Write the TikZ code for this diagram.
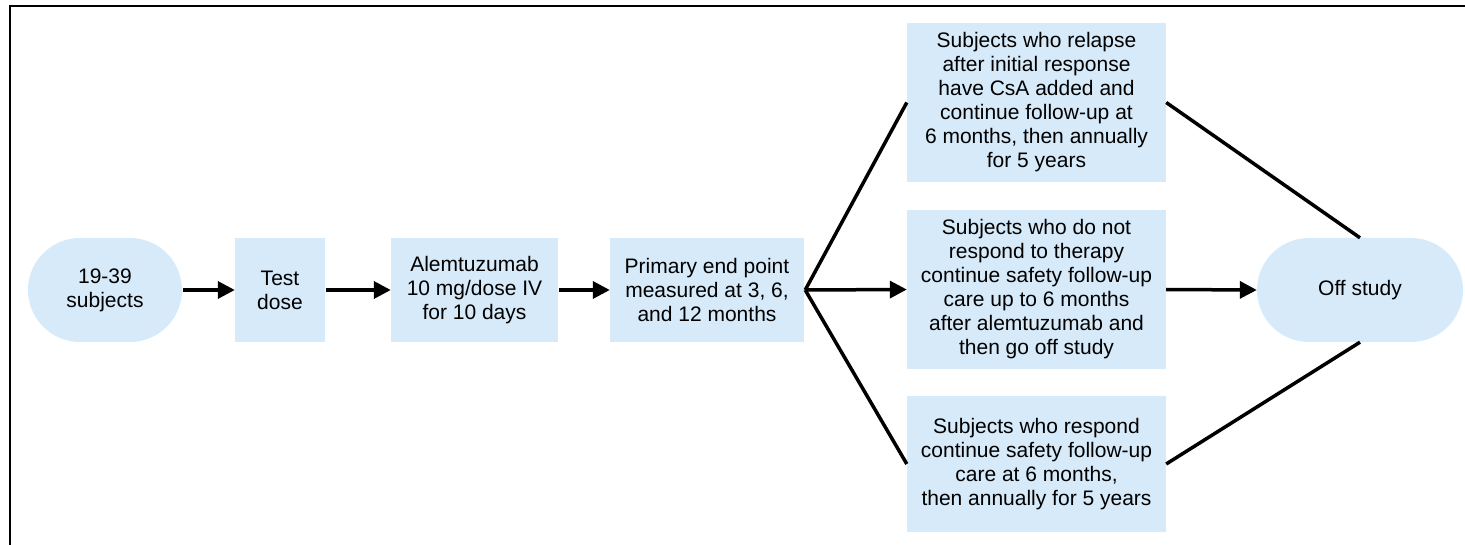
\documentclass[tikz,border=0pt]{standalone}
\usepackage{fontspec}
\setmainfont{Liberation Sans}
\usetikzlibrary{arrows.meta,shapes.misc}
\definecolor{boxblue}{RGB}{214,234,249}
\tikzset{
  box/.style={fill=boxblue, draw=none, align=center, inner sep=0pt,
    font=\fontsize{21}{24}\selectfont},
  pill/.style={box, rounded rectangle},
  conn/.style={line width=3.5pt, black},
  arr/.style={conn, -{Triangle[length=17pt,width=17pt]}},
}
\begin{document}
\begin{tikzpicture}[x=1pt,y=-1pt]
\useasboundingbox (0,0) rectangle (1465,545);
\draw[line width=2.5pt] (10,545) -- (10,6) -- (1465,6);
\node[pill, minimum width=154pt, minimum height=104pt] (start) at (105,290) {19-39\\subjects};
\node[box, minimum width=90pt, minimum height=104pt] (test) at (280,290) {Test\\dose};
\node[box, minimum width=167pt, minimum height=104pt] (alem) at (474.5,290) {Alemtuzumab\\10 mg/dose IV\\for 10 days};
\node[box, minimum width=194pt, minimum height=104pt] (prim) at (707,290) {Primary end point\\measured at 3, 6,\\and 12 months};
\node[box, minimum width=259pt, minimum height=159pt] (top) at (1036.5,102.5) {Subjects who relapse\\after initial response\\have CsA added and\\continue follow-up at\\6 months, then annually\\for 5 years};
\node[box, minimum width=259pt, minimum height=159pt] (mid) at (1036.5,289.5) {Subjects who do not\\respond to therapy\\continue safety follow-up\\care up to 6 months\\after alemtuzumab and\\then go off study};
\node[box, minimum width=259pt, minimum height=136pt] (bot) at (1036.5,464) {Subjects who respond\\continue safety follow-up\\care at 6 months,\\then annually for 5 years};
\node[pill, minimum width=206pt, minimum height=104pt] (off) at (1360,290) {Off study};
\coordinate (split) at ([xshift=1pt]prim.east);
\draw[arr] ([xshift=1pt]start.east) -- (test.west);
\draw[arr] ([xshift=1pt]test.east) -- (alem.west);
\draw[arr] ([xshift=1pt]alem.east) -- (prim.west);
\draw[conn] (split) -- (top.west);
\draw[arr] (split) -- (mid.west);
\draw[conn] (split) -- (bot.west);
\draw[conn] (top.east) -- (off.north);
\draw[arr] (mid.east) -- (off.west);
\draw[conn] (bot.east) -- (off.south);
\end{tikzpicture}
\end{document}
